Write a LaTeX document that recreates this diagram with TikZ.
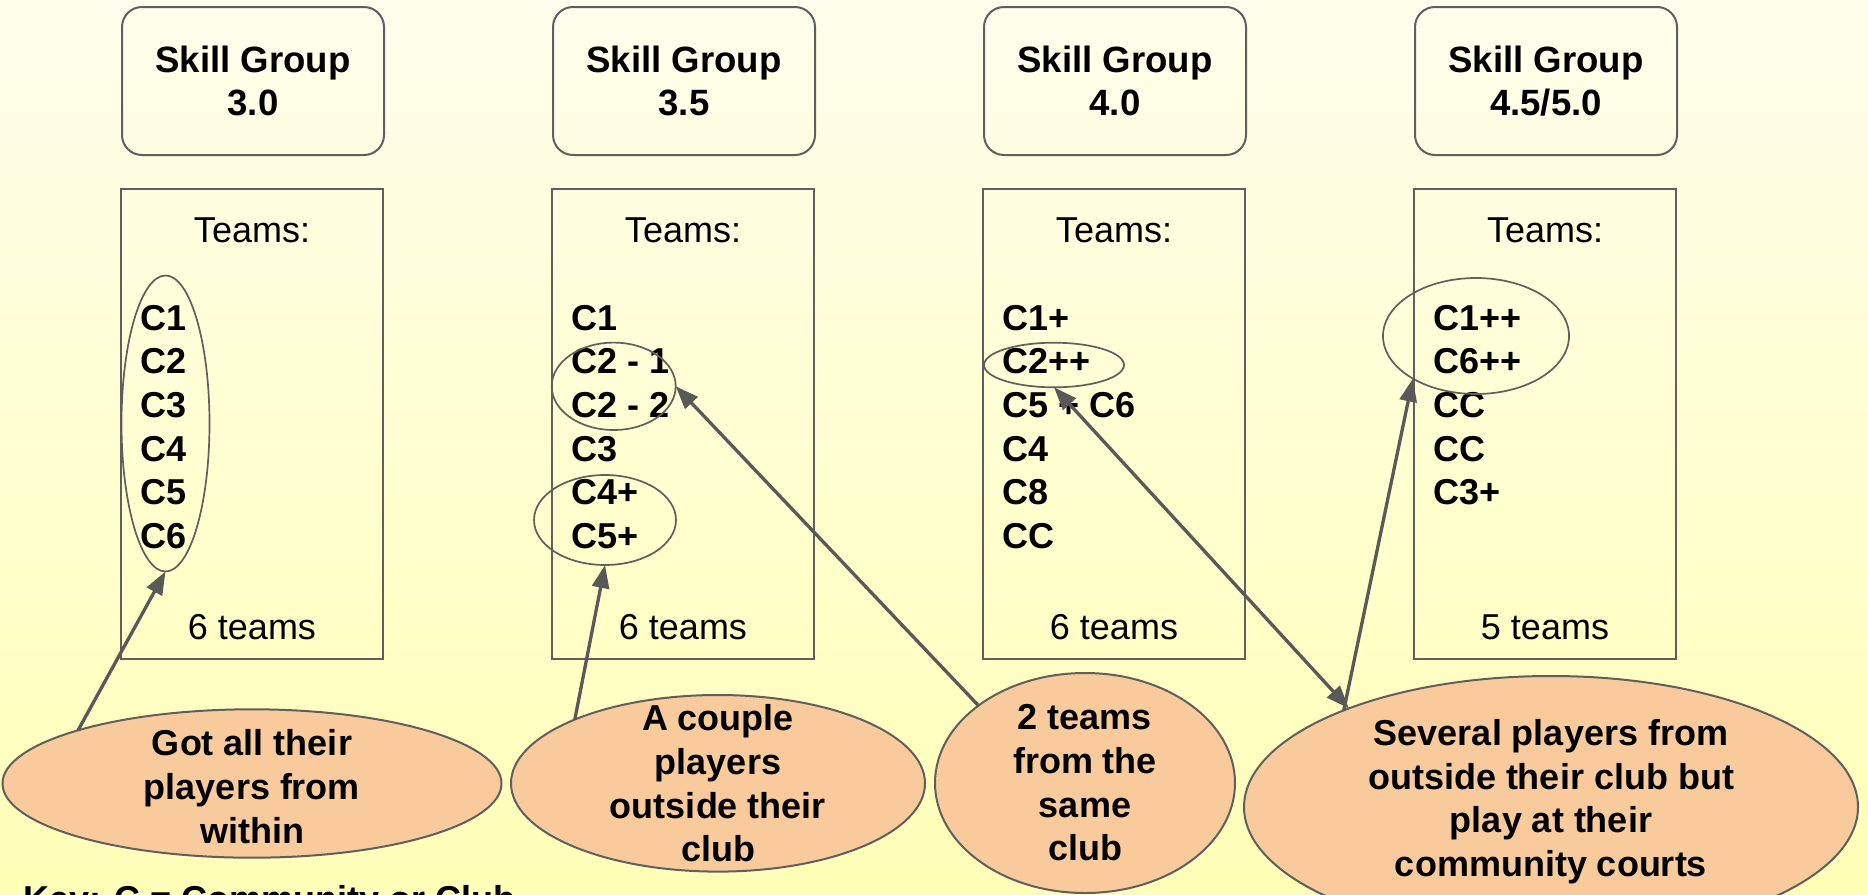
\documentclass[tikz,border=0pt]{standalone}
\usepackage{fontspec}
\setmainfont{Liberation Sans}
\usetikzlibrary{shapes.geometric, arrows.meta}

\begin{document}
\begin{tikzpicture}[
	x=0.5pt, y=-0.5pt,
	skillbox/.style={draw=boxgray, line width=1pt, rounded corners=10pt},
	teambox/.style={draw=boxgray, line width=1pt},
	skilltext/.style={font=\bfseries\fontsize{18.3pt}{21.2pt}\selectfont, align=center, inner sep=0pt},
	plaintext/.style={font=\fontsize{18pt}{21.85pt}\selectfont, inner sep=0pt, anchor=base},
	teamlist/.style={font=\bfseries\fontsize{18pt}{21.85pt}\selectfont, align=left, inner sep=0pt, anchor=north west},
	ring/.style={draw=boxgray, line width=0.85pt, ellipse, inner sep=0pt, outer sep=0pt},
	callout/.style={draw=boxgray, line width=1pt, fill=calloutfill, ellipse, inner sep=0pt, outer sep=0pt},
	callouttext/.style={font=\bfseries\fontsize{18pt}{21.85pt}\selectfont, align=center, inner sep=0pt},
	pointer/.style={draw=arrowgray, line width=1.65pt, -{Triangle[length=11.5pt, width=8.5pt]}},
	pointerboth/.style={draw=arrowgray, line width=1.65pt, {Triangle[length=11.5pt, width=8.5pt]}-{Triangle[length=11.5pt, width=8.5pt]}}
	]
		\definecolor{boxgray}{RGB}{95, 95, 95}
		\definecolor{arrowgray}{RGB}{89, 89, 89}
		\definecolor{calloutfill}{RGB}{249, 203, 156}
		\definecolor{bgtop}{RGB}{255, 254, 236}
		\definecolor{bgbottom}{RGB}{255, 255, 183}

	% background
	\useasboundingbox (0, 0) rectangle (1868, 894);
	\clip (0, 0) rectangle (1868, 894);
	\shade [top color=bgtop, bottom color=bgbottom] (0, 0) rectangle (1868, 894);

	% skill group 3.0
	\draw [skillbox] (122, 7) rectangle (384, 155);
	\node [skilltext] (sg30) at (253, 81) {Skill Group\\3.0};
	\draw [teambox] (121, 189) rectangle (383, 659);
	\node [plaintext] (teams30) at (252, 242.7) {Teams:};
	\node [teamlist] (list30) at (140, 304.5) {C1\\C2\\C3\\C4\\C5\\C6};
	\node [plaintext] (count30) at (252, 639.3) {6 teams};
	\node [ring, minimum width=44pt, minimum height=148pt] (all30) at (165.5, 423.5) {};

	% skill group 3.5
	\draw [skillbox] (553, 7) rectangle (815, 155);
	\node [skilltext] (sg35) at (684, 81) {Skill Group\\3.5};
	\draw [teambox] (552, 189) rectangle (814, 659);
	\node [plaintext] (teams35) at (683, 242.7) {Teams:};
	\node [teamlist] (list35) at (571, 304.5) {C1\\C2 - 1\\C2 - 2\\C3\\C4+\\C5+};
	\node [plaintext] (count35) at (683, 639.3) {6 teams};
	\node [ring, minimum width=62pt, minimum height=43.7pt] (c22) at (613.7, 386.3) {};
	\node [ring, minimum width=71pt, minimum height=45pt] (c45) at (605, 520) {};

	% skill group 4.0
	\draw [skillbox] (984, 7) rectangle (1246, 155);
	\node [skilltext] (sg40) at (1115, 81) {Skill Group\\4.0};
	\draw [teambox] (983, 189) rectangle (1245, 659);
	\node [plaintext] (teams40) at (1114, 242.7) {Teams:};
	\node [teamlist] (list40) at (1002, 304.5) {C1+\\C2++\\C5 + C6\\C4\\C8\\CC};
	\node [plaintext] (count40) at (1114, 639.3) {6 teams};
	\node [ring, minimum width=70pt, minimum height=22.3pt] (c2pp) at (1054, 365) {};

	% skill group 4.5/5.0
	\draw [skillbox] (1415, 7) rectangle (1677, 155);
	\node [skilltext] (sg45) at (1546, 81) {Skill Group\\4.5/5.0};
	\draw [teambox] (1414, 189) rectangle (1676, 659);
	\node [plaintext] (teams45) at (1545, 242.7) {Teams:};
	\node [teamlist] (list45) at (1433, 304.5) {C1++\\C6++\\CC\\CC\\C3+};
	\node [plaintext] (count45) at (1545, 639.3) {5 teams};
	\node [ring, minimum width=93pt, minimum height=58pt] (c16) at (1476, 336) {};

	% callouts
	\node [callout, minimum width=249.5pt, minimum height=74.2pt,
		label={[callouttext, yshift=-1.5pt]center:{Got all their\\players from\\within}}] (within) at (252, 783.5) {};
	\node [callout, minimum width=207pt, minimum height=88.3pt,
		label={[callouttext]center:{A couple\\players\\outside their\\club}}] (couple) at (718, 783.3) {};
	\node [callout, minimum width=150pt, minimum height=110pt,
		label={[callouttext]center:{2 teams\\from the\\same\\club}}] (sameclub) at (1085, 783) {};
	\node [callout, minimum width=307pt, minimum height=131pt,
		label={[callouttext, yshift=2.65pt]center:{Several players from\\outside their club but\\play at their\\community courts}}] (several) at (1551, 807) {};

	% key
	\node [callouttext, anchor=base west] (key) at (23, 911) {Key: C = Community or Club};

	% pointers
	\draw [pointer] (within.163) -- (all30.south);
	\draw [pointer] (couple.156) -- (c45.south);
	\draw [pointer] (sameclub.144) -- (c22.east);
	\draw [pointerboth] (several.154) -- (c2pp.south);
	\draw [pointer] (several.155) -- (c16.214);
\end{tikzpicture}
\end{document}
